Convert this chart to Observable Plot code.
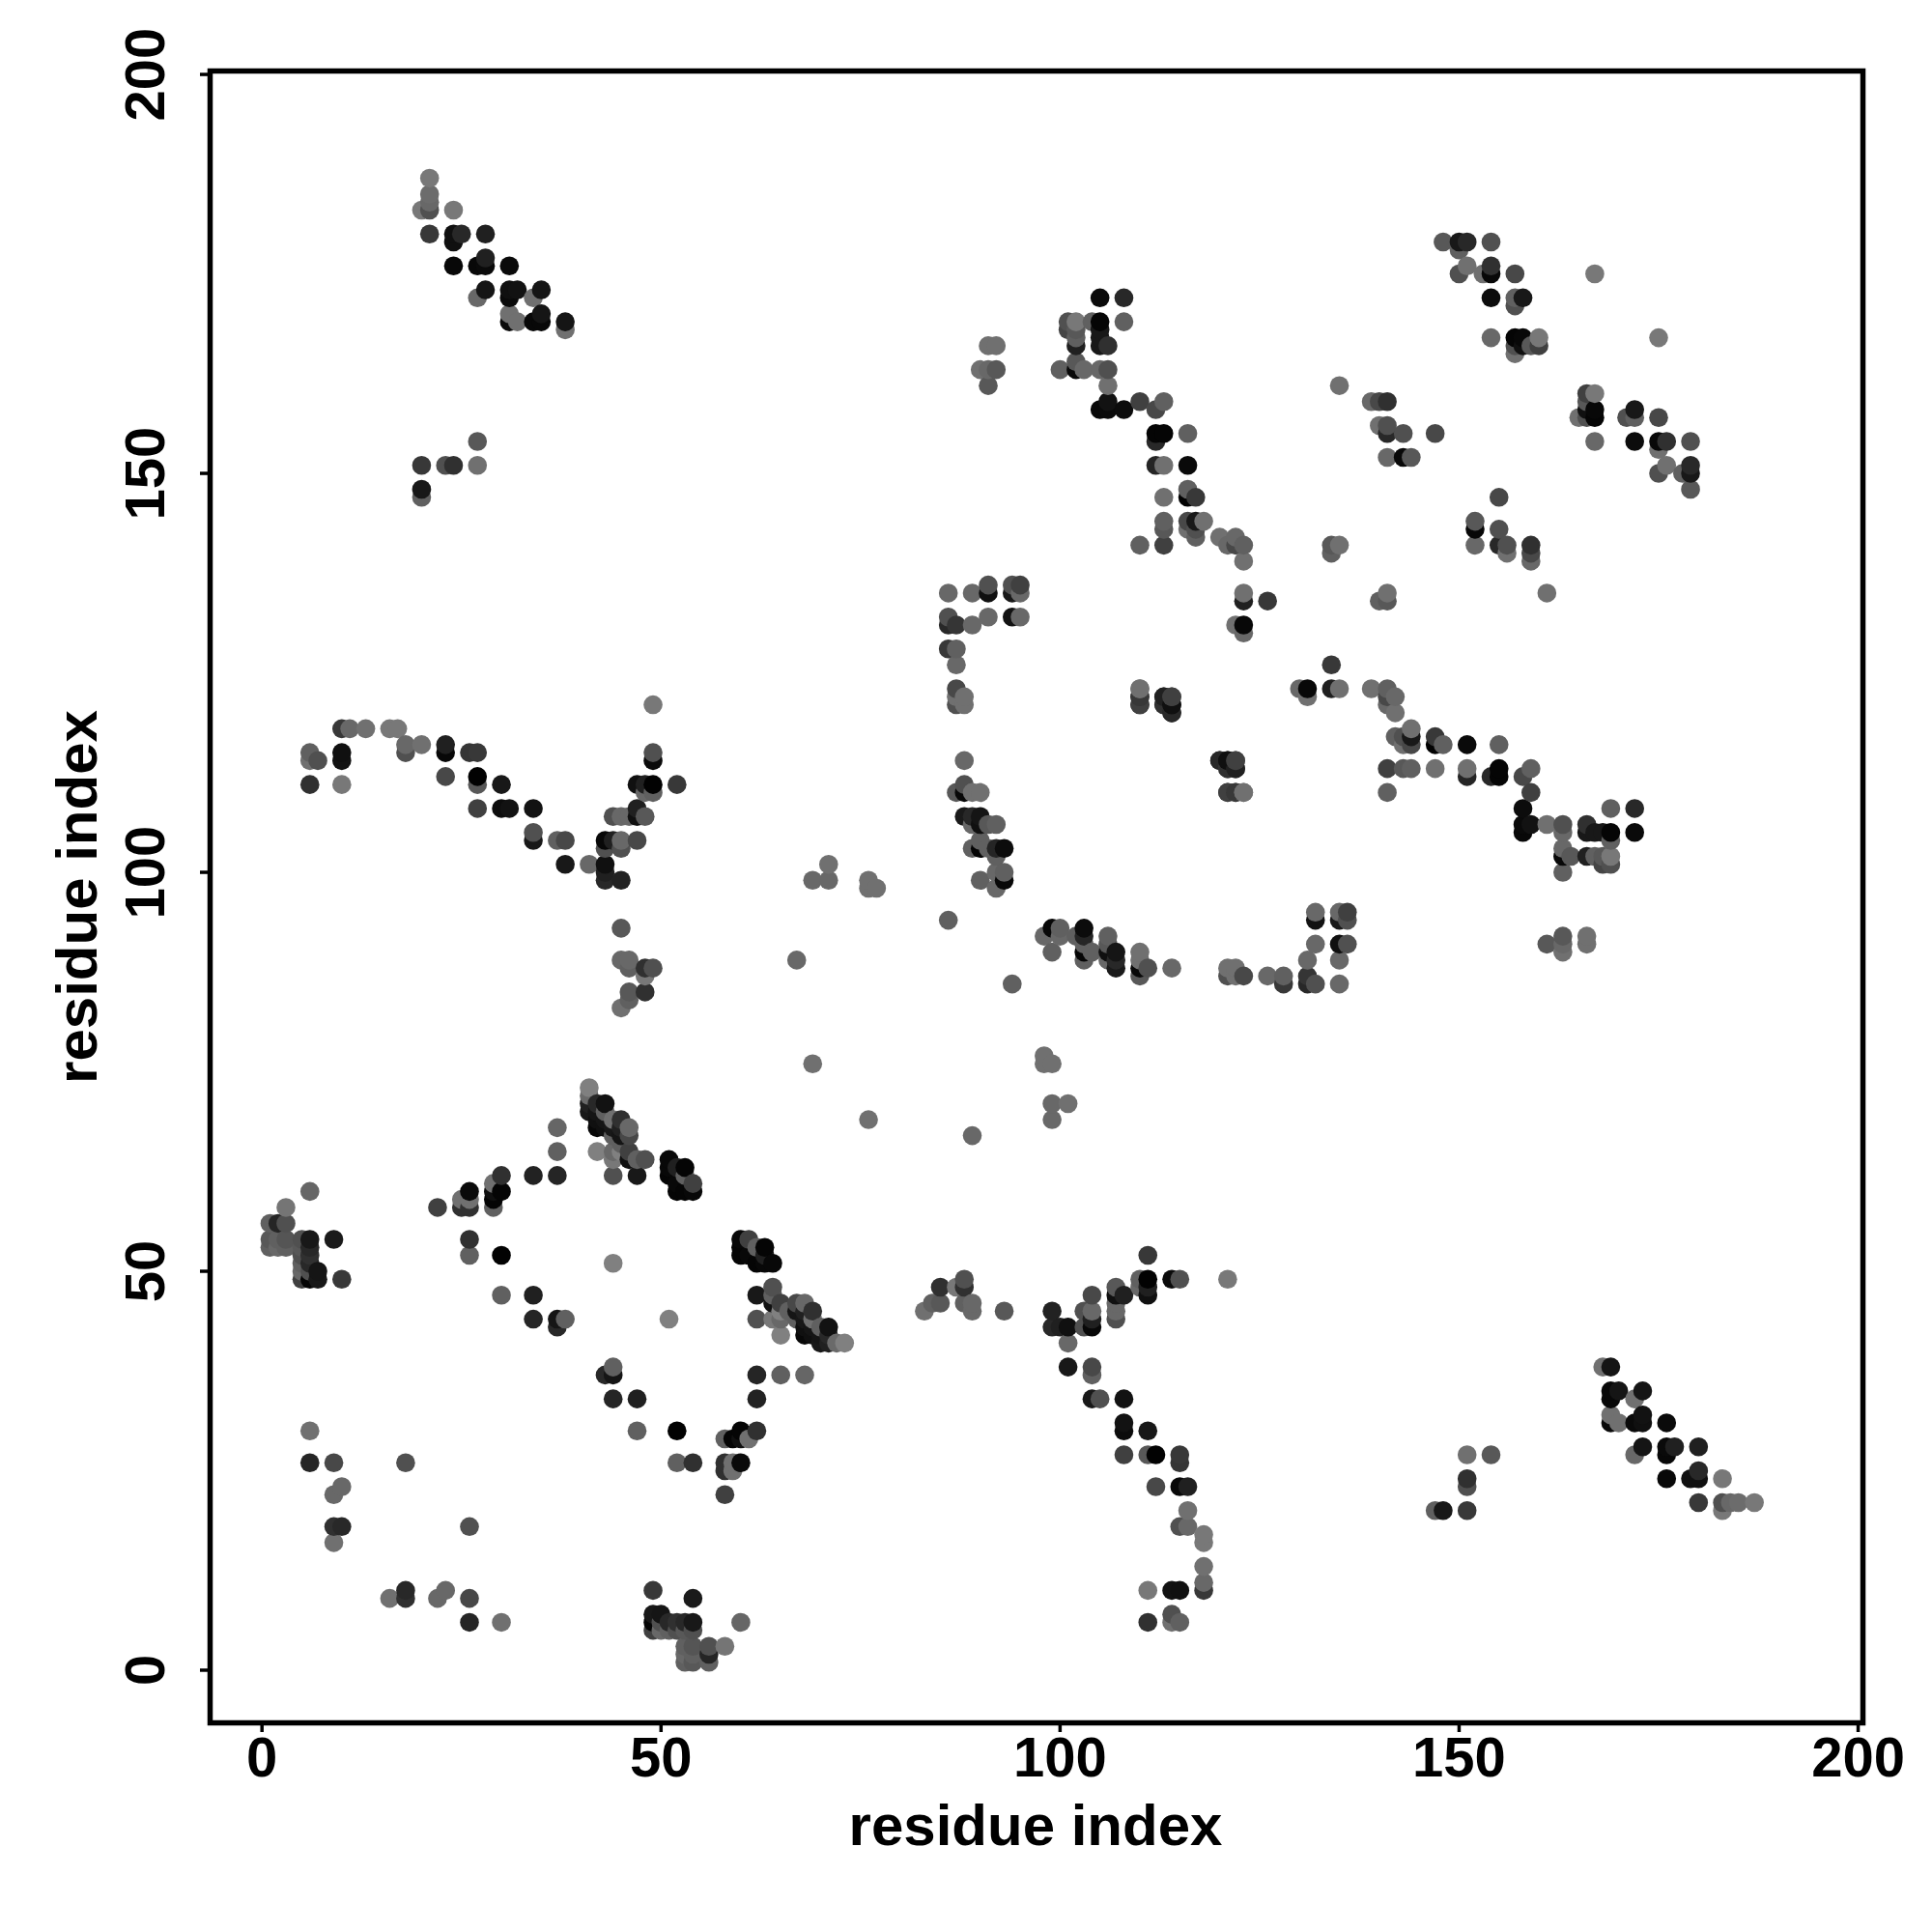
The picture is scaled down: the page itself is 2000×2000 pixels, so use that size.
<!DOCTYPE html>
<html>
<head>
<meta charset="utf-8">
<style>html,body{margin:0;padding:0;background:#fff}svg{display:block}</style>
<script src="https://cdn.jsdelivr.net/npm/d3@7"></script>
<script src="https://cdn.jsdelivr.net/npm/@observablehq/plot@0.6"></script>
</head>
<body>
<div id="chart"></div>
<script>
const leftCluster = [[6,60,102],[3,58,117],[1,56,96],[2,56,37],[3,56,80],[1,54,88],[2,54,96],[3,54,85],[1,53,96],[2,53,104],[3,53,96],[5,54,80],[6,54,24],[5,53,88],[6,53,40],[5,52,80],[6,52,48],[5,51,96],[6,51,40],[5,50,104],[6,50,80],[7,50,21],[5,49,64],[6,49,5],[7,49,24],[9,54,26],[10,49,56]];
const midCluster = [[22,58,64],[25,59,112],[25,58,48],[26,58,48],[26,59,112],[26,60,10],[29,58,96],[29,59,5],[29,60,16],[29,61,112],[30,60,5],[30,62,48],[34,62,34],[37,62,37],[37,65,96],[37,68,102],[26,54,48],[26,52,96],[30,52,2],[44,51,128],[30,47,96],[34,47,32],[34,44,37],[37,44,21],[38,44,96],[37,43,40]];
const helixCluster = [[41,73,128],[41,72,106],[41,71,32],[41,70,24],[42,71,40],[43,71,18],[42,70,21],[42,69,16],[42,68,8],[43,70,96],[43,69,21],[43,68,16],[44,69,112],[45,69,48],[44,68,24],[44,67,96],[45,68,32],[45,67,21],[46,68,104],[46,67,72],[42,65,128],[44,65,104],[45,66,96],[46,65,64],[45,65,128],[44,64,120],[46,64,16],[47,64,96],[48,64,80],[44,62,80],[47,62,24],[51,64,8],[51,63,8],[51,62,5],[52,63,32],[53,63,5],[52,61,8],[52,60,5],[53,60,5],[54,60,8],[54,61,64],[53,62,96]];
const topLeftCluster = [[21,187,120],[21,185,108],[21,184,104],[21,183,80],[20,183,120],[24,183,120],[21,180,56],[24,180,16],[25,180,40],[24,179,16],[28,180,32],[24,176,8],[27,176,8],[28,176,10],[28,177,32],[31,176,10],[28,173,21],[27,172,104],[31,173,16],[32,173,18],[31,172,10],[35,173,21],[34,172,112],[31,170,112],[32,169,112],[31,169,10],[34,169,8],[35,170,21],[35,169,8],[38,169,21],[38,168,112],[20,151,56],[20,148,24],[20,147,96],[23,151,80],[24,151,48],[27,154,88],[27,151,112]];
const armCluster = [[49,121,120],[10,118,56],[11,118,104],[13,118,112],[16,118,120],[17,118,120],[18,116,104],[20,116,112],[18,115,80],[6,115,96],[6,114,112],[7,114,80],[10,115,16],[10,114,18],[6,111,48],[10,111,120],[23,116,32],[23,115,8],[23,112,72],[26,115,53],[27,115,56],[27,112,2],[27,111,88],[30,111,24],[27,108,64],[30,108,12],[31,108,18],[34,108,18],[34,105,80],[34,104,24],[37,104,96],[38,104,72],[38,101,24],[41,101,104],[43,104,8],[44,104,32],[43,103,80],[45,104,104],[45,103,80],[47,104,72],[43,101,16],[43,100,32],[43,99,40],[45,99,34],[44,107,80],[45,107,104],[46,107,104],[47,108,32],[47,107,16],[48,107,88],[47,111,16],[48,111,32],[48,110,104],[49,111,2],[49,110,96],[52,111,56],[49,115,80],[49,114,10],[45,93,88],[45,89,104],[46,89,104],[46,88,96],[48,88,48],[49,88,80],[48,87,120],[46,85,88],[48,85,48],[46,84,96],[45,83,112]];
const sparsePoints = [[69,99,104],[71,99,104],[71,101,112],[76,99,112],[76,98,112],[77,98,112],[67,89,104],[86,94,96],[69,76,112],[6,30,112],[6,26,37],[9,26,72],[18,26,80],[10,23,104],[9,22,104],[9,18,48],[10,18,40],[9,16,112]];
const columnCluster = [[86,135,104],[89,135,104],[91,136,80],[91,135,16],[94,136,80],[95,136,64],[94,135,24],[95,135,104],[86,132,80],[86,131,40],[87,131,53],[89,131,104],[91,132,104],[94,132,18],[95,132,104],[86,128,56],[87,128,96],[87,126,104],[87,123,72],[87,122,112],[87,121,80],[88,122,112],[88,121,112],[88,114,104],[88,111,80],[87,110,88],[88,110,8],[89,110,112],[90,110,112],[88,107,26],[89,107,40],[90,107,21],[89,106,104],[90,106,16],[91,106,88],[92,106,96],[90,104,96],[89,103,96],[90,103,5],[91,103,96],[92,103,37],[93,103,12],[92,102,96],[90,99,96],[92,100,104],[93,100,96],[93,99,8],[92,98,104],[91,166,112],[92,166,112],[90,163,112],[91,163,104],[92,163,88],[91,161,88]];
const ridgeCluster = [[105,172,10],[108,172,40],[101,169,80],[102,169,120],[104,169,96],[105,169,5],[108,169,96],[101,168,69],[102,168,88],[102,167,96],[102,166,32],[105,168,24],[105,167,24],[105,166,24],[106,166,48],[102,164,88],[100,163,96],[102,163,8],[103,163,104],[105,163,104],[106,163,80],[106,161,112],[105,158,8],[106,159,18],[106,158,10],[108,158,12],[110,159,64],[112,158,72],[113,159,96],[112,155,5],[113,155,5],[112,154,40],[116,155,96],[112,151,37],[113,151,112],[116,151,10],[116,148,96],[116,147,2],[117,147,56],[113,147,112],[113,144,96],[113,143,88],[113,141,64],[110,141,96],[116,144,72],[117,144,24],[118,144,112],[116,143,112],[117,143,80],[117,142,96],[120,142,112],[121,141,104],[122,142,104],[122,141,72],[123,141,96],[123,139,112],[123,135,112],[126,134,56],[123,134,32],[123,131,8],[122,131,112],[123,130,104]];
const centreCluster = [[110,123,120],[110,122,56],[110,121,56],[113,122,40],[114,122,64],[113,121,72],[114,121,18],[114,120,34],[120,114,40],[121,114,16],[122,114,64],[121,113,48],[122,113,32],[121,110,64],[122,110,56],[123,110,112],[134,141,88],[135,141,112],[134,140,96],[152,144,88],[152,143,8],[152,141,104],[155,147,72],[155,143,80],[155,141,40],[156,141,80],[156,140,112],[159,141,48],[159,140,72],[159,139,104],[161,135,112]];
const topRightCluster = [[148,179,88],[150,179,24],[151,179,40],[154,179,80],[150,178,96],[150,175,80],[151,176,112],[153,175,112],[154,176,48],[154,175,8],[157,175,72],[167,175,120],[154,172,12],[157,172,96],[157,171,80],[158,172,24],[154,167,104],[157,167,5],[158,167,8],[160,167,120],[157,166,80],[158,166,16],[159,166,88],[160,166,64],[157,165,112]];
const clusters = [leftCluster, midCluster, helixCluster, topLeftCluster, armCluster, sparsePoints, columnCluster, ridgeCluster, centreCluster, topRightCluster];
const axisTicks = [0, 50, 100, 150, 200];
const axisLabel = "residue index";

// The contact map is symmetric: every contact (i, j) also appears as (j, i).
const contacts = d3.sort(
  clusters.flat().flatMap(([i, j, shade]) => [{x: i, y: j, shade}, {x: j, y: i, shade}]),
  d => d.x, d => d.y
);

const chart = Plot.plot({
  width: 2000,
  height: 2000,
  marginLeft: 217,
  marginRight: 72,
  marginTop: 73,
  marginBottom: 217,
  style: {background: "#fff", fontFamily: "Liberation Sans", fontWeight: "bold", color: "#000"},
  x: {domain: [-6.5, 200.6]},
  y: {domain: [-6.6, 200.43]},
  color: {type: "linear", domain: [0, 255], range: ["#000", "#fff"]},
  marks: [
    Plot.dot(contacts, {x: "x", y: "y", r: 9.8, fill: "shade"}),
    Plot.frame({stroke: "#000", strokeWidth: 5.5}),
    Plot.axisX({ticks: axisTicks, tickFormat: d => d, tickSize: 10, tickPadding: 4, fontSize: 58, strokeWidth: 3.5, label: null}),
    Plot.axisY({ticks: axisTicks, tickFormat: d => d, tickSize: 10, tickPadding: 38, fontSize: 58, strokeWidth: 3.5, tickRotate: -90, label: null}),
    Plot.text([axisLabel], {frameAnchor: "bottom", dy: 126, dx: -1, fontSize: 60, lineAnchor: "bottom"}),
    Plot.text([axisLabel], {frameAnchor: "left", dx: -118, fontSize: 60, rotate: -90, textAnchor: "middle", lineAnchor: "bottom"})
  ]
});
document.getElementById("chart").append(chart);
</script>
</body>
</html>
